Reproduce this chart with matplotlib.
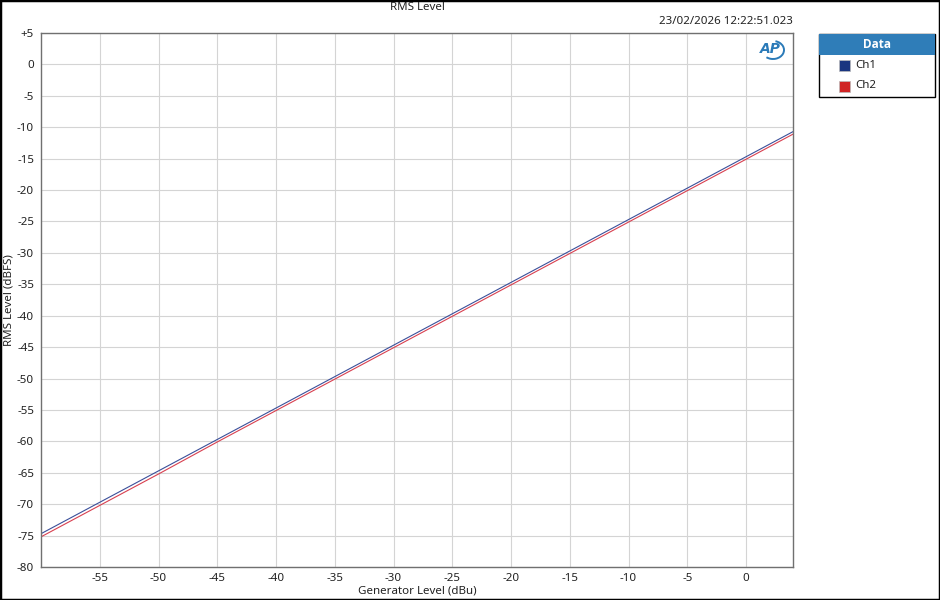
import numpy as np
import matplotlib.pyplot as plt
from matplotlib.patches import Rectangle, Arc

plt.rcParams['font.family'] = ['Noto Sans', 'DejaVu Sans']
plt.rcParams['axes.unicode_minus'] = False

# generator level sweep (dBu) and measured RMS level (dBFS)
gen_level = [-60, -55, -50, -45, -40, -35, -30, -25, -20, -15, -10, -5, 0, 4]
ch1 = [-74.7, -69.7, -64.7, -59.7, -54.7, -49.7, -44.7, -39.7, -34.7, -29.7, -24.7, -19.7, -14.7, -10.7]
ch2 = [-75.2, -70.2, -65.2, -60.1, -55.1, -50.1, -45.1, -40.1, -35.1, -30.1, -25.1, -20.1, -15.1, -11.1]

x_ticks = [-55, -50, -45, -40, -35, -30, -25, -20, -15, -10, -5, 0]
y_ticks = list(range(-80, 6, 5))
y_labels = ['+5' if v > 0 else str(v) for v in y_ticks]

fig = plt.figure(figsize=(9.4, 6), dpi=100)
ax = fig.add_axes([41/940, 1-567/600, (793-41)/940, (567-33)/600])

ax.plot(gen_level, ch1, color='#3a4f9a', lw=0.8)
ax.plot(gen_level, ch2, color='#d84050', lw=0.8)

ax.set_xlim(-60, 4)
ax.set_ylim(-80, 5)
ax.set_xticks(x_ticks)
ax.set_yticks(y_ticks)
ax.set_yticklabels(y_labels)
fs = 8.3
ax.tick_params(length=0, labelsize=fs, colors='#222222')
ax.tick_params(axis='x', pad=4)
ax.tick_params(axis='y', pad=5)
ax.grid(True, color='#d4d4d4', lw=0.8)
for s in ax.spines.values():
    s.set_color('#707070')
    s.set_linewidth(1)

fig.text(417/940, 1-8/600, 'RMS Level', ha='center', va='center', fontsize=fs, color='#222222')
fig.text(793/940, 1-21/600, '23/02/2026 12:22:51.023', ha='right', va='center', fontsize=fs, color='#222222')
fig.text(417/940, 1-591/600, 'Generator Level (dBu)', ha='center', va='center', fontsize=fs, color='#222222')
fig.text(9/940, 1-300/600, 'RMS Level (dBFS)', ha='center', va='center', rotation=90, fontsize=fs, color='#222222')

# AP logo
fig.text(770/940, 1-49/600, 'AP', ha='center', va='center', fontsize=10, fontweight='bold',
         style='italic', color='#2a7ab8', family=['DejaVu Sans'])
fig.add_artist(Arc((773/940, 1-50/600), 22/940, 18/600, angle=0, theta1=-120, theta2=80,
                   color='#2a7ab8', lw=1.4, transform=fig.transFigure))

# legend box
lx0, lx1, ly0, ly1 = 819, 935, 34, 97
def fx(px):
    return px/940
def fy(py):
    return 1-py/600
fig.add_artist(Rectangle((fx(lx0), fy(ly1)), fx(lx1)-fx(lx0), fy(ly0)-fy(ly1),
                         facecolor='white', edgecolor='black', lw=1, transform=fig.transFigure))
fig.add_artist(Rectangle((fx(lx0), fy(55)), fx(lx1)-fx(lx0), fy(ly0)-fy(55),
                         facecolor='#2f7db8', edgecolor='none', transform=fig.transFigure))
fig.text(fx(877), fy(44.5), 'Data', ha='center', va='center', fontsize=8.5, fontweight='bold',
         color='white', family=['Open Sans', 'DejaVu Sans'])
for name, col, py in [('Ch1', '#1a3580', 65), ('Ch2', '#d02424', 86)]:
    fig.add_artist(Rectangle((fx(839), fy(py+5.5)), 11/940, 11/600, facecolor=col,
                             edgecolor='#bbbbbb', lw=0.5, transform=fig.transFigure))
    fig.text(fx(855), fy(py), name, ha='left', va='center', fontsize=fs, color='#222222')

# outer frame
fig.add_artist(Rectangle((0, 0), 1, 1, facecolor='none', edgecolor='black', lw=2.5,
                         transform=fig.transFigure))

fig.savefig('out.png', dpi=100)
